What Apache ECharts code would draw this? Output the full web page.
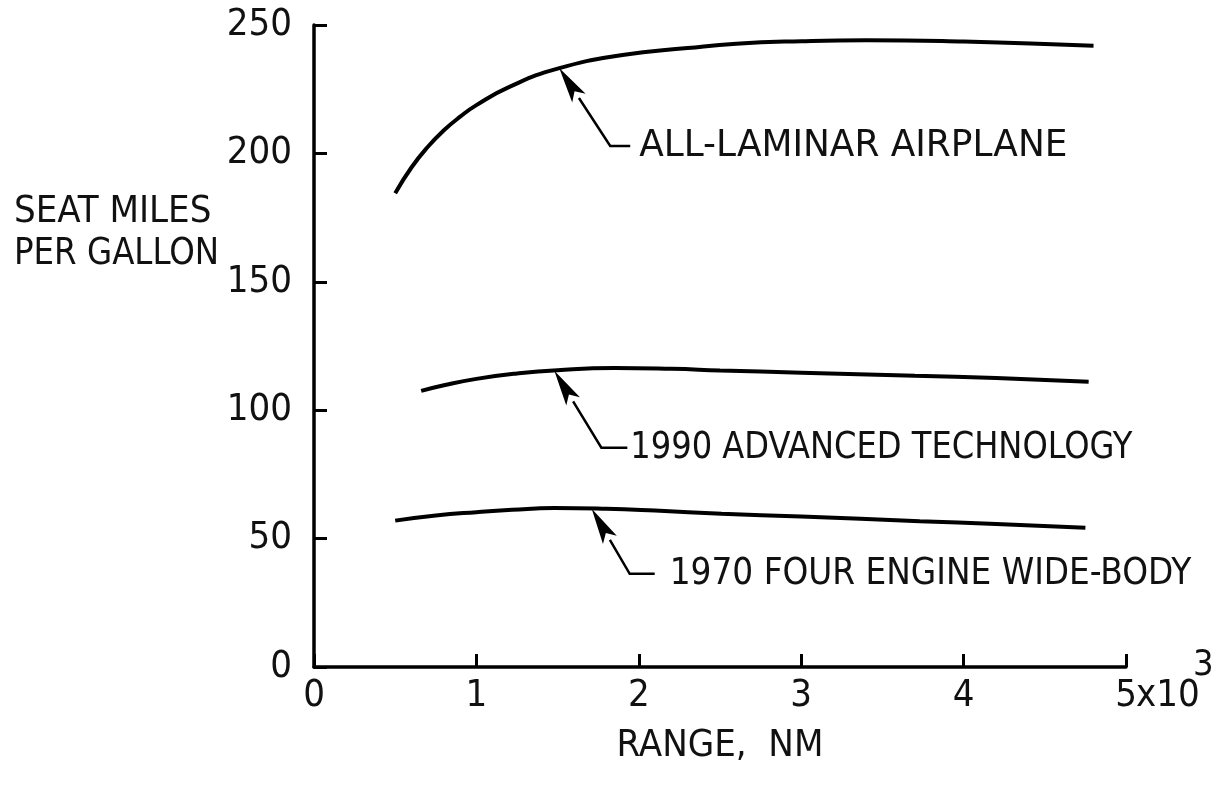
<!DOCTYPE html>
<html>
<head>
<meta charset="utf-8">
<script src="https://cdn.jsdelivr.net/npm/echarts@6/dist/echarts.min.js"></script>
<style>
html,body{margin:0;padding:0;background:#fff;}
#chart{width:1212px;height:788px;}
</style>
</head>
<body>
<div id="chart"></div>
<script>
// ---- data ----
const xTicks = [0, 1, 2, 3, 4, 5];
const yTicks = [0, 50, 100, 150, 200, 250];

const laminarX = [0.5, 0.6, 0.7, 0.8, 0.9, 1.0, 1.2, 1.5, 1.9, 2.3, 2.6, 3.0, 3.4, 4.0, 4.5, 4.8];
const laminarY = [184.5, 194.5, 202.5, 209, 214.3, 218.8, 225.8, 233, 238.3, 241, 242.7, 243.7, 244.1, 243.6, 242.6, 241.9];

const adv1990X = [0.66, 0.8, 1.0, 1.25, 1.5, 1.85, 2.2, 2.5, 3.0, 3.7, 4.2, 4.77];
const adv1990Y = [107.5, 109.7, 112.2, 114.3, 115.6, 116.4, 116.1, 115.5, 114.6, 113.4, 112.5, 111.1];

const wide1970X = [0.5, 0.75, 1.0, 1.22, 1.48, 1.8, 2.1, 2.51, 3.0, 3.73, 4.2, 4.75];
const wide1970Y = [57, 59, 60.3, 61.2, 61.9, 61.6, 60.9, 59.7, 58.6, 56.8, 55.7, 54.2];

const labels = ['ALL-LAMINAR AIRPLANE', '1990 ADVANCED TECHNOLOGY', '1970 FOUR ENGINE WIDE-BODY'];
// arrow tip positions (data coords) on each curve
const tipX = [1.51, 1.48, 1.71];
const tipY = [233.3, 115.4, 61.6];

const FONT = "'Liberation Sans Narrow', 'DejaVu Sans Condensed', 'Arial Narrow', sans-serif";

function pairs(xs, ys) { return xs.map((x, i) => [x, ys[i]]); }

const chart = echarts.init(document.getElementById('chart'), null, {renderer: 'canvas'});

const lineStyle = {color: '#000', width: 4};
const axisCommon = {
  axisLine: {show: true, lineStyle: {color: '#000', width: 3.5}},
  axisTick: {show: true, inside: true, length: 13, lineStyle: {color: '#000', width: 3}},
  splitLine: {show: false},
};

chart.setOption({
  animation: false,
  backgroundColor: '#fff',
  grid: {left: 314, right: 86, top: 25, bottom: 121, containLabel: false},
  xAxis: Object.assign({
    type: 'value', min: 0, max: 5, interval: 1,
    name: 'RANGE,  NM', nameLocation: 'middle', nameGap: 60,
    nameTextStyle: {fontFamily: FONT, fontSize: 38, color: '#111'},
    axisLabel: {fontFamily: FONT, fontSize: 38, color: '#111', margin: 10,
      formatter: v => xTicks.includes(v) ? String(v) : ''}
  }, axisCommon),
  yAxis: Object.assign({
    type: 'value', min: 0, max: 250, interval: 50,
    axisLabel: {fontFamily: FONT, fontSize: 38, color: '#111', margin: 22,
      formatter: v => yTicks.includes(v) ? String(v) : ''}
  }, axisCommon),
  series: [
    {type: 'line', data: pairs(laminarX, laminarY), smooth: 0.5, showSymbol: false, lineStyle},
    {type: 'line', data: pairs(adv1990X, adv1990Y), smooth: 0.5, showSymbol: false, lineStyle},
    {type: 'line', data: pairs(wide1970X, wide1970Y), smooth: 0.5, showSymbol: false, lineStyle},
  ]
});

// ---- annotations (leader lines with arrowheads, text) ----
const kinkOff = [[51, 78], [47, 77], [38, 65]];
const horiz = [20, 26, 25];
const textGap = [9, 3, 15];
const textScaleX = [1.05, 0.94, 0.96];

const g = [];
for (let i = 0; i < 3; i++) {
  const tip = chart.convertToPixel({gridIndex: 0}, [tipX[i], tipY[i]]);
  const kink = [tip[0] + kinkOff[i][0], tip[1] + kinkOff[i][1]];
  const end = [kink[0] + horiz[i], kink[1]];
  const dx = kink[0] - tip[0], dy = kink[1] - tip[1];
  const len = Math.hypot(dx, dy);
  const ux = dx / len, uy = dy / len;
  const headLen = 36, headW = 8;
  const base = [tip[0] + ux * headLen, tip[1] + uy * headLen];
  const px = -uy, py = ux;
  g.push({type: 'polyline', shape: {points: [base, kink, end]}, style: {stroke: '#000', lineWidth: 2.5, fill: null}});
  g.push({type: 'polygon', shape: {points: [tip, [base[0] + px * headW, base[1] + py * headW], [tip[0] + ux * (headLen - 8), tip[1] + uy * (headLen - 8)], [base[0] - px * headW, base[1] - py * headW]]}, style: {fill: '#000'}});
  g.push({type: 'text', x: end[0] + textGap[i], y: end[1], scaleX: textScaleX[i], style: {text: labels[i], font: '38px ' + FONT, fill: '#111', textAlign: 'left', textVerticalAlign: 'middle'}});
}
// y axis title
g.push({type: 'text', x: 14, y: 212, style: {text: 'SEAT MILES', font: '38px ' + FONT, fill: '#111', textAlign: 'left', textVerticalAlign: 'middle'}});
g.push({type: 'text', x: 14, y: 254, scaleX: 0.95, style: {text: 'PER GALLON', font: '38px ' + FONT, fill: '#111', textAlign: 'left', textVerticalAlign: 'middle'}});
// x10^3 multiplier next to last tick label
const p5 = chart.convertToPixel({gridIndex: 0}, [5, 0]);
g.push({type: 'text', x: p5[0] + 10, y: p5[1] + 29, style: {text: 'x10', font: '38px ' + FONT, fill: '#111', textAlign: 'left', textVerticalAlign: 'middle'}});
g.push({type: 'text', x: p5[0] + 67, y: p5[1] - 1, style: {text: '3', font: '36px ' + FONT, fill: '#111', textAlign: 'left', textVerticalAlign: 'middle'}});

chart.setOption({graphic: g});
</script>
</body>
</html>
